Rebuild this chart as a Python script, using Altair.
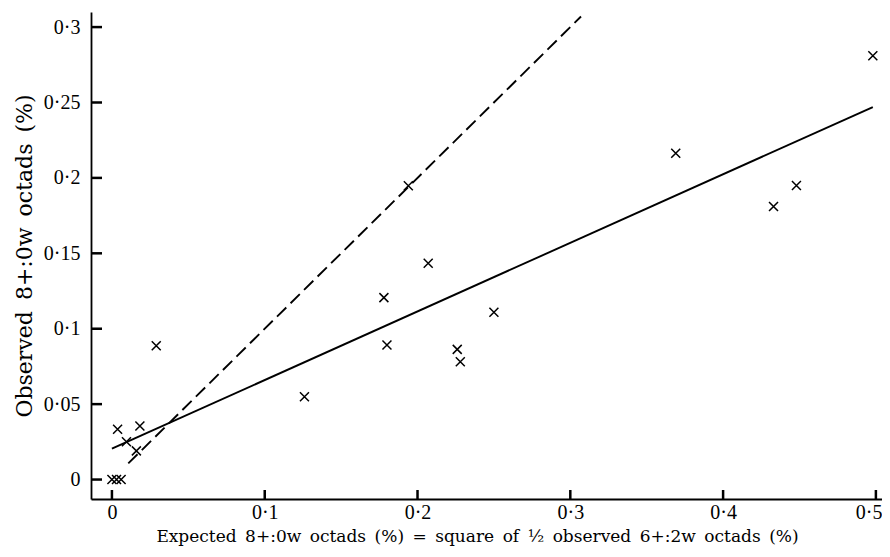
import altair as alt
import pandas as pd

# Observed data (values in %)
exp_x = [0.000, 0.003, 0.006, 0.0037, 0.0183, 0.0095, 0.016, 0.029, 0.126, 0.178,
         0.180, 0.194, 0.207, 0.226, 0.228, 0.250, 0.369, 0.433, 0.448, 0.498]
obs_y = [0.000, 0.000, 0.000, 0.0333, 0.0355, 0.025, 0.019, 0.0887, 0.0549, 0.1206,
         0.0892, 0.1948, 0.1434, 0.0863, 0.0781, 0.1109, 0.2163, 0.181, 0.195, 0.281]

# fitted regression line (solid)
fit_x = [0.0, 0.498]
fit_y = [0.0205, 0.247]
# line of equality (dashed)
eq_x = [0.0107, 0.307]
eq_y = [0.0107, 0.307]

x_ticks = [0, 0.1, 0.2, 0.3, 0.4, 0.5]
y_ticks = [0, 0.05, 0.1, 0.15, 0.2, 0.25, 0.3]

X_DOMAIN = [-0.0137, 0.504]
Y_DOMAIN = [-0.0129, 0.31]
W, H = 791, 487
LABEL_FONT = "Liberation Serif"
TITLE_FONT = "DejaVu Serif"
EN = "\u2002"   # wide word spaces, as in the typeset original

x_title = EN.join(["Expected", "8+:0w", "octads", "(%)", "=", "square", "of", "½",
                   "observed", "6+:2w", "octads", "(%)"])
y_title = EN.join(["Observed", "8+:0w", "octads", "(%)"])

pts = pd.DataFrame({"x": exp_x, "y": obs_y})
fit = pd.DataFrame({"x": fit_x, "y": fit_y})
eq = pd.DataFrame({"x": eq_x, "y": eq_y})
xt = pd.DataFrame({"x": x_ticks})
yt = pd.DataFrame({"y": y_ticks})

xs = alt.Scale(domain=X_DOMAIN, nice=False, zero=False)
ys = alt.Scale(domain=Y_DOMAIN, nice=False, zero=False)
lab = "replace(format(datum.value, '~g'), '.', '·')"

x_axis = alt.Axis(
    orient="bottom", values=x_ticks, labelExpr=lab, ticks=False, tickSize=0,
    labelPadding=3, domainColor="black", domainWidth=1.8, grid=False,
    labelFontSize=20, titleFontSize=17, titleFont=TITLE_FONT,
    labelAlign={"condition": {"test": "datum.value >= 0.5", "value": "right"}, "value": "center"},
    labelOffset={"condition": {"test": "datum.value >= 0.5", "value": 6}, "value": 0},
    title=x_title, titlePadding=6, titleX=386)
y_axis = alt.Axis(
    orient="left", values=y_ticks, labelExpr=lab, ticks=False, tickSize=0,
    labelPadding=11, domainColor="black", domainWidth=1.8, grid=False,
    labelFontSize=20, titleFontSize=22, titleFont=TITLE_FONT,
    title=y_title, titlePadding=7)

points = alt.Chart(pts).mark_point(
    shape="M-1,-1L1,1M1,-1L-1,1", size=81, filled=False,
    stroke="black", strokeWidth=1.5, opacity=1
).encode(
    x=alt.X("x:Q", scale=xs, axis=x_axis),
    y=alt.Y("y:Q", scale=ys, axis=y_axis),
)

fit_line = alt.Chart(fit).mark_line(color="black", strokeWidth=1.9).encode(
    x=alt.X("x:Q", scale=xs, axis=x_axis),
    y=alt.Y("y:Q", scale=ys, axis=y_axis),
)

eq_line = alt.Chart(eq).mark_line(color="black", strokeWidth=1.9, strokeDash=[13, 6]).encode(
    x=alt.X("x:Q", scale=xs, axis=x_axis),
    y=alt.Y("y:Q", scale=ys, axis=y_axis),
)

# inward-pointing tick marks
y_tick_marks = alt.Chart(yt).mark_rule(color="black", strokeWidth=2.5, opacity=1).encode(
    y=alt.Y("y:Q", scale=ys, axis=y_axis),
    x=alt.value(0), x2=alt.value(11),
)
x_tick_marks = alt.Chart(xt).mark_rule(color="black", strokeWidth=2.5, opacity=1).encode(
    x=alt.X("x:Q", scale=xs, axis=x_axis),
    y=alt.value(H), y2=alt.value(H - 9),
)

chart = alt.layer(eq_line, fit_line, y_tick_marks, x_tick_marks, points).properties(
    width=W, height=H,
    autosize=alt.AutoSizeParams(type="none"),
    padding={"left": 83, "top": 4, "right": 0, "bottom": 50},
).configure_axis(
    labelFont=LABEL_FONT,
    labelColor="black", titleColor="black", titleFontWeight="normal",
).configure_view(stroke=None)

chart.save("out.html", embed_options={"renderer": "svg", "actions": False})
